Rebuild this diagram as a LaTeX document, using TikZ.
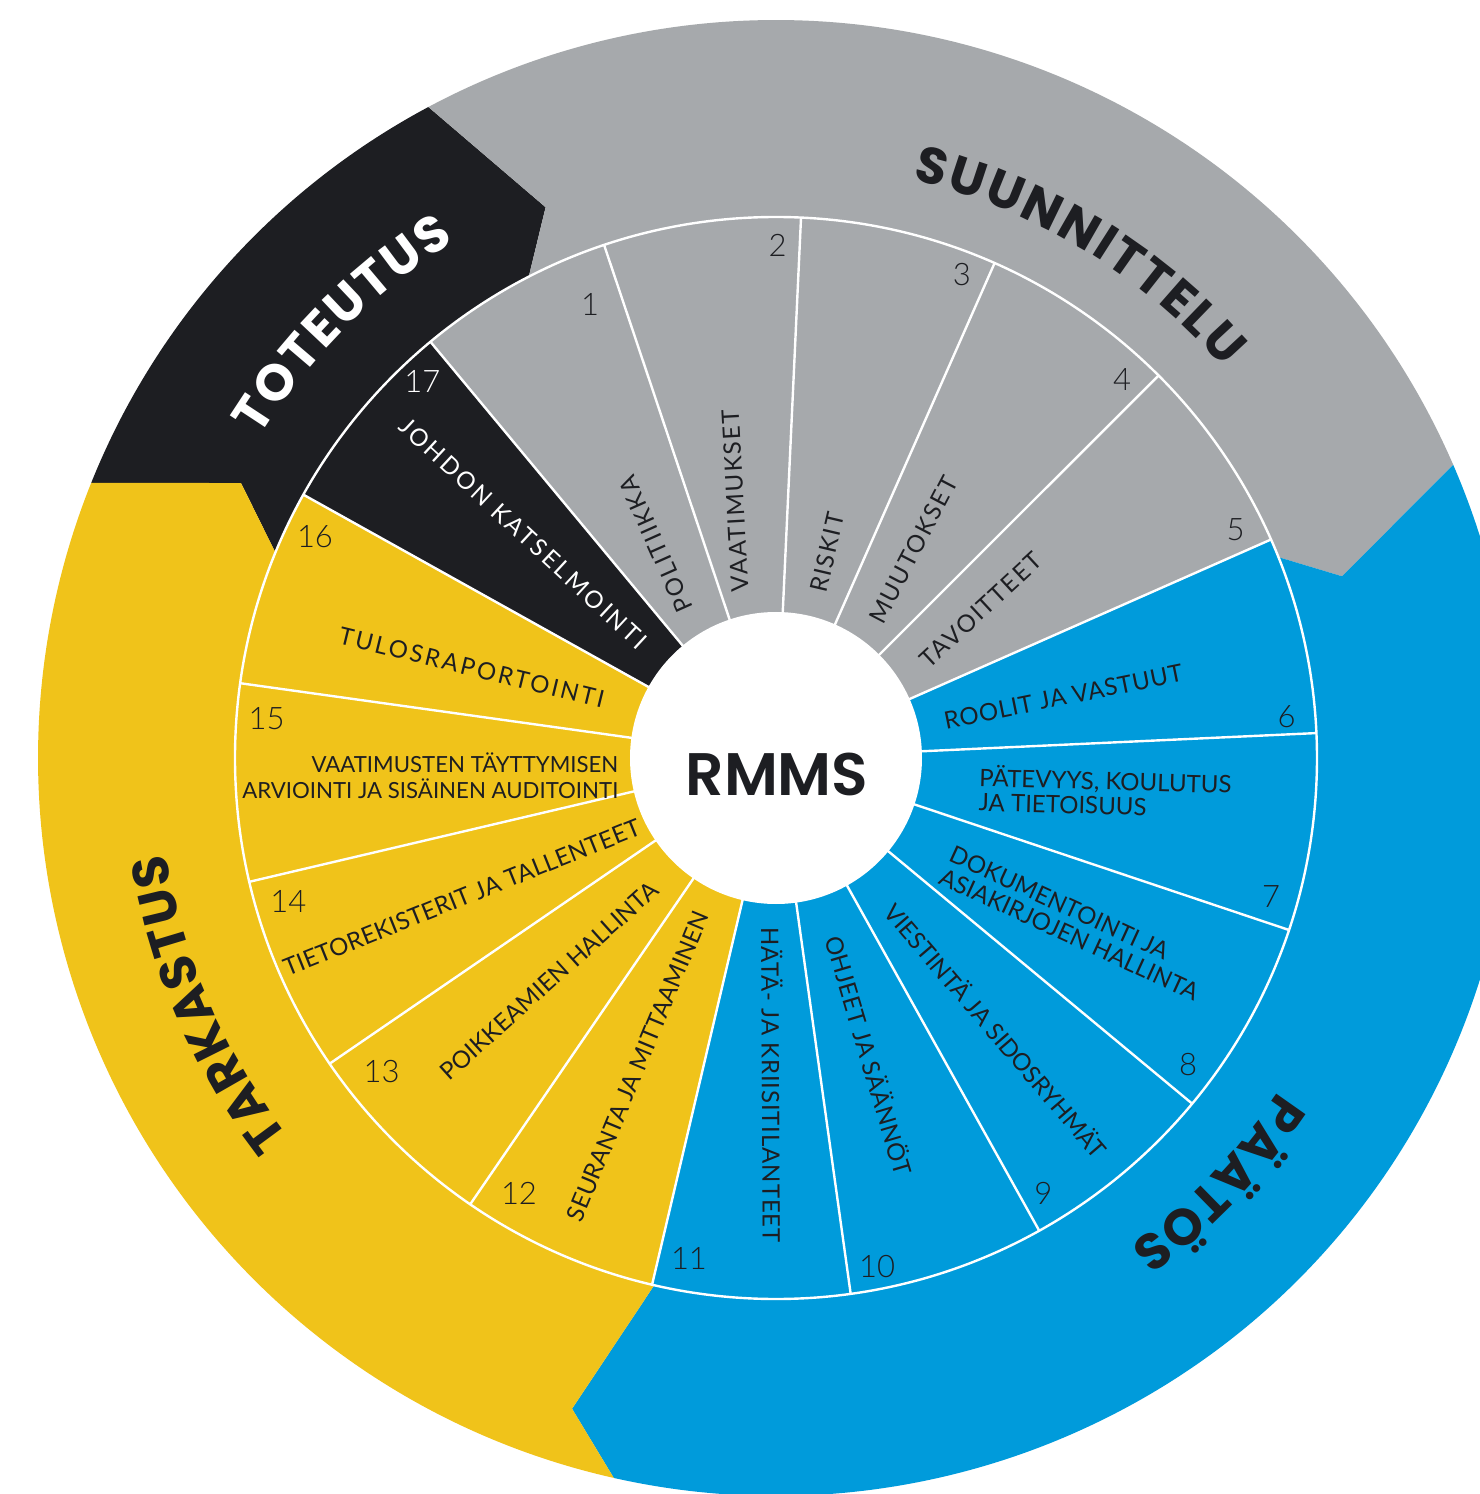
\documentclass[tikz,border=0pt]{standalone}
\usepackage{fontspec}
\usetikzlibrary{decorations.text}
\newfontfamily\labelfont{Lato}
\IfFontExistsTF{Lato Light}{\newfontfamily\numfont{Lato Light}}{\newfontfamily\numfont{Lato}}
\newfontfamily\headfont{Poppins}
\IfFontExistsTF{Poppins SemiBold}{\newfontfamily\rmmsfont{Poppins SemiBold}}{\newcommand\rmmsfont{\headfont\bfseries}}
\definecolor{cgray}{HTML}{A6A9AC}
\definecolor{cblack}{HTML}{1D1E22}
\definecolor{cyellow}{HTML}{F0C31A}
\definecolor{cblue}{HTML}{009BDB}
\definecolor{ctext}{HTML}{1D1E22}
\tikzset{
  lbl/.style={font=\labelfont\addfontfeature{LetterSpace=#1}\fontsize{24}{24.5}\selectfont, text=ctext, inner sep=0pt},
  lbl/.default=8,
  lblsmall/.style={font=\labelfont\fontsize{22.2}{25.5}\selectfont, text=ctext, inner sep=0pt},
  num/.style={font=\numfont\fontsize{31}{31}\selectfont, text=ctext, inner sep=0pt},
  sepline/.style={draw=white, line width=2.4pt},
  headtext/.style={decorate, decoration={text along path, text align={fit to path},
     text color=#1}},
}
\begin{document}
\begin{tikzpicture}
\useasboundingbox (-776pt,-736pt) rectangle (704pt,758pt);
\fill[white] (-776pt,-736pt) rectangle (704pt,758pt);
\begin{scope}
\clip (-776pt,-736pt) rectangle (704pt,758pt);
% outer ring (four phases)
\fill[cblack] (158.1:738pt) arc[start angle=158.1, end angle=118.1, radius=738pt]
  -- (112.7:597pt) -- (117.2:541pt) arc[start angle=117.2, end angle=157.7, radius=541pt]
  -- (152.8:601.5pt) -- cycle;
\fill[cgray] (118.1:738pt) arc[start angle=118.1, end angle=23.4, radius=738pt]
  -- (17.8:594.5pt) -- (21.8:541pt) arc[start angle=21.8, end angle=117.2, radius=541pt]
  -- (112.7:597pt) -- cycle;
\fill[cblue] (23.4:738pt) arc[start angle=23.4, end angle=-102.7, radius=738pt]
  -- (-107.4:682pt) -- (-103:541pt) arc[start angle=-103, end angle=21.8, radius=541pt]
  -- (17.8:594.5pt) -- cycle;
\fill[cyellow] (-102.7:738pt) arc[start angle=-102.7, end angle=-201.9, radius=738pt]
  -- (-207.2:601.5pt) -- (-202.3:541pt) arc[start angle=-202.3, end angle=-103, radius=541pt]
  -- (-107.4:682pt) -- cycle;
% inner segments
\foreach \i/\c in {1/cgray,2/cgray,3/cgray,4/cgray,5/cgray,6/cblue,7/cblue,8/cblue,9/cblue,10/cblue,11/cblue,12/cyellow,13/cyellow,14/cyellow,15/cyellow,16/cyellow,17/cblack}{
  \pgfmathsetmacro\sa{129.7-(\i-1)*360/17}
  \pgfmathsetmacro\ea{129.7-\i*360/17}
  \fill[\c] (0,0) -- (\sa:541pt) arc[start angle=\sa, end angle=\ea, radius=541pt] -- cycle;
}
\foreach \k in {0,...,16}{
  \pgfmathsetmacro\ba{129.7-\k*360/17}
  \draw[sepline] (\ba:140pt) -- (\ba:541pt);
}
\draw[sepline] (0,0) circle[radius=541pt];
\end{scope}
% centre
\node[circle, fill=white, minimum size=292pt, inner sep=0pt] (hub) at (0,0) {};
\node[font=\rmmsfont\fontsize{60}{60}\selectfont, text=ctext, inner sep=0pt] (rmms) at (1pt,-16pt) {RMMS};
% phase headings
\path[headtext=ctext, decoration={text={|\headfont\bfseries\fontsize{51}{51}\selectfont|SUUNNITTELU}}]
  (76.7:594pt) arc[start angle=76.7, end angle=41.1, radius=594pt];
\path[headtext=white, decoration={text={|\headfont\bfseries\fontsize{51}{51}\selectfont|TOTEUTUS}}]
  (148.1:608pt) arc[start angle=148.1, end angle=121.9, radius=608pt];
\path[headtext=ctext, decoration={text={|\headfont\bfseries\fontsize{51}{51}\selectfont|TARKASTUS}}]
  (217.9:617pt) arc[start angle=217.9, end angle=188.9, radius=617pt];
\path[headtext=ctext, decoration={text={|\headfont\bfseries\fontsize{51}{51}\selectfont|PÄÄTÖS}}]
  (-33.6:603pt) arc[start angle=-33.6, end angle=-54.1, radius=603pt];
% segment labels
\node[lbl, rotate=114.0] (l1) at (-120.2pt,213.8pt) {POLITIIKKA};
\node[lbl, rotate=93.1] (l2) at (-41pt,257pt) {VAATIMUKSET};
\node[lbl, rotate=76.8] (l3) at (51.5pt,205.5pt) {RISKIT};
\node[lbl, rotate=62.4] (l4) at (137.3pt,208pt) {MUUTOKSET};
\node[lbl, rotate=42.8] (l5) at (204.8pt,148pt) {TAVOITTEET};
\node[lbl=3, rotate=11.5] (l6) at (287.3pt,61.3pt) {ROOLIT JA VASTUUT};
\node[lbl=0, rotate=-1.6, anchor=west, align=left] (l7) at (203pt,-30pt) {PÄTEVYYS, KOULUTUS\\JA TIETOISUUS};
\node[lbl=0.5, rotate=-24.7, anchor=west, align=left] (l8) at (169.9pt,-106.2pt) {DOKUMENTOINTI JA\\ASIAKIRJOJEN HALLINTA};
\node[lbl=0, rotate=-49.4] (l9) at (220.7pt,-272pt) {VIESTINTÄ JA SIDOSRYHMÄT};
\node[lbl=1.7, rotate=-73.4] (l10) at (94pt,-297pt) {OHJEET JA SÄÄNNÖT};
\node[lbl=3.6, rotate=-89.7] (l11) at (-3.5pt,-327pt) {HÄTÄ- JA KRIISITILANTEET};
\node[lbl=0.9, rotate=67.4] (l12) at (-138.3pt,-308pt) {SEURANTA JA MITTAAMINEN};
\node[lbl=0, rotate=42.0] (l13) at (-226.8pt,-222.9pt) {POIKKEAMIEN HALLINTA};
\node[lbl=1, rotate=21.85] (l14) at (-314.3pt,-139.5pt) {TIETOREKISTERIT JA TALLENTEET};
\node[lblsmall, anchor=east, align=right] (l15) at (-157.5pt,-17.5pt) {VAATIMUSTEN TÄYTTYMISEN\\ARVIOINTI JA SISÄINEN AUDITOINTI};
\node[lbl=10.7, rotate=-13.7] (l16) at (-304.3pt,90.5pt) {TULOSRAPORTOINTI};
\node[lbl=11.5, rotate=-42.8, text=white] (l17) at (-252.7pt,224.7pt) {JOHDON KATSELMOINTI};
% segment numbers
\node[num] (n1) at (-186pt,454pt) {1};
\node[num] (n2) at (1.7pt,513pt) {2};
\node[num] (n3) at (185.8pt,483pt) {3};
\node[num] (n4) at (346pt,378pt) {4};
\node[num] (n5) at (459.5pt,228pt) {5};
\node[num] (n6) at (510.5pt,41.3pt) {6};
\node[num] (n7) at (495pt,-138.7pt) {7};
\node[num] (n8) at (412pt,-307pt) {8};
\node[num] (n9) at (267.3pt,-435.3pt) {9};
\node[num] (n10) at (101pt,-508.7pt) {10};
\node[num] (n11) at (-87pt,-500.3pt) {11};
\node[num] (n12) at (-257pt,-435.3pt) {12};
\node[num] (n13) at (-394.3pt,-313.7pt) {13};
\node[num] (n14) at (-487.7pt,-143.7pt) {14};
\node[num] (n15) at (-509.4pt,39.7pt) {15};
\node[num] (n16) at (-461pt,221.3pt) {16};
\node[num, text=white] (n17) at (-353.6pt,376.3pt) {17};
\end{tikzpicture}
\end{document}
